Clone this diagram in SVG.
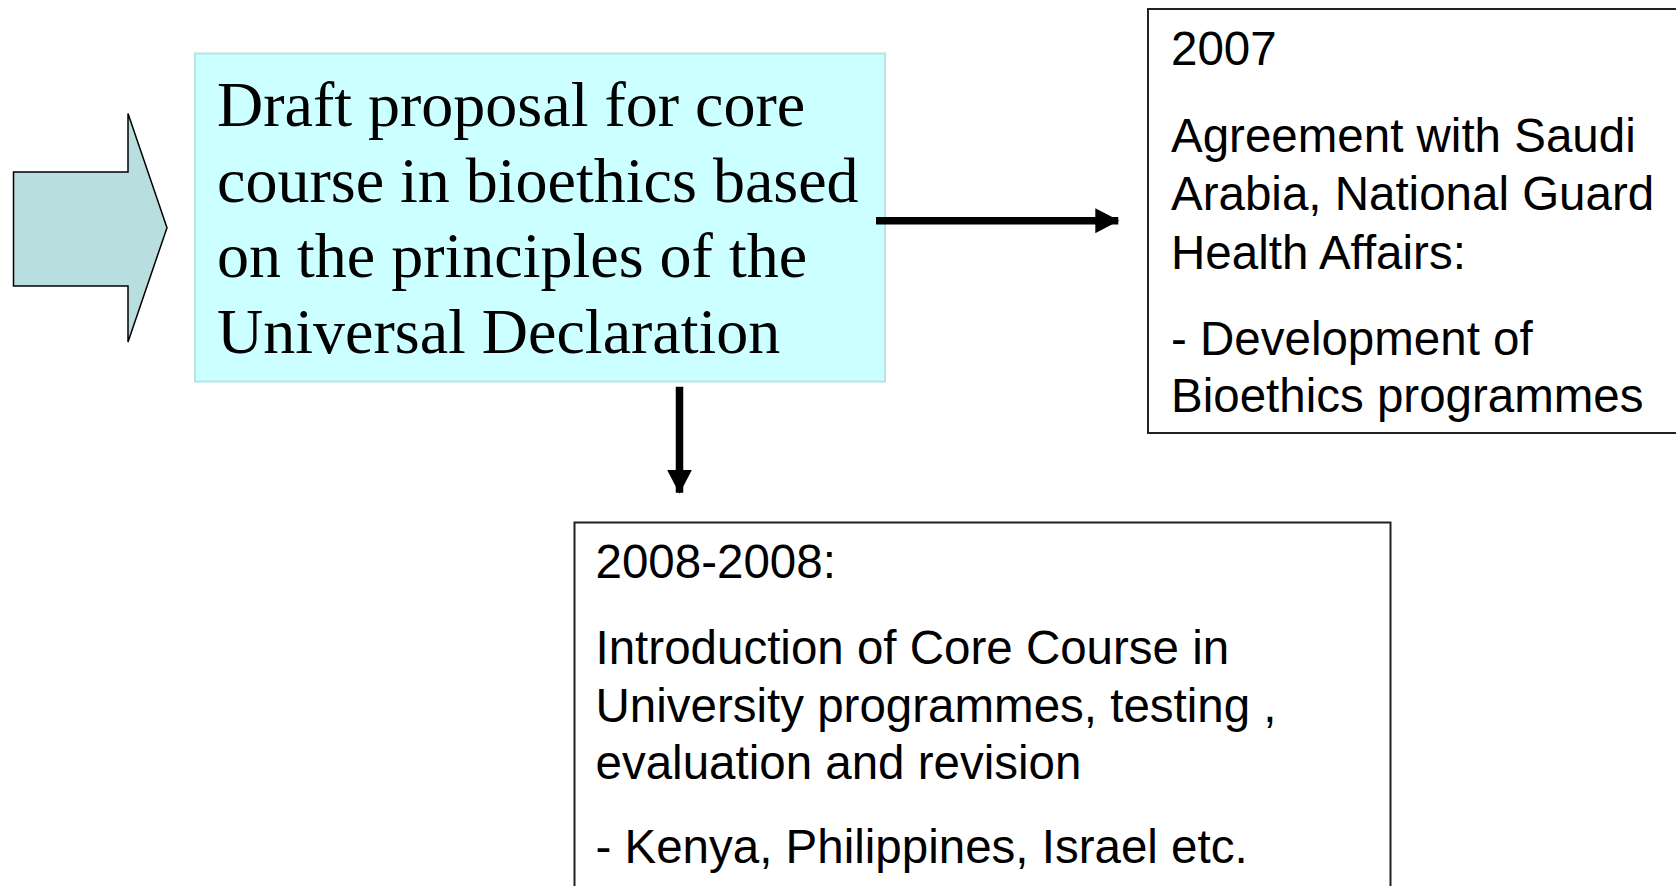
<svg xmlns="http://www.w3.org/2000/svg" width="1676" height="886" viewBox="0 0 1676 886">
<defs>
<style>
.serif{font-family:"Liberation Serif","Times New Roman",serif;font-size:64px;fill:#000}
.sans{font-family:"Liberation Sans",Arial,sans-serif;font-size:47.5px;fill:#000}
.box{fill:#fff;stroke:#222;stroke-width:2}
.conn{stroke:#000;stroke-width:7.5;fill:none}
</style>
<marker id="ah" markerWidth="24" markerHeight="25" viewBox="0 0 24 25" refX="23" refY="12.5" orient="auto" markerUnits="userSpaceOnUse">
<path d="M0,0 L24,12.5 L0,25 Z" fill="#000"/>
</marker>
</defs>
<rect width="1676" height="886" fill="#fff"/>
<g id="left-arrow">
<path d="M13.5,172 L128,172 L128,113.5 L167,227.7 L128,342 L128,286 L13.5,286 Z" fill="#b9dee0" stroke="#000" stroke-width="1.5"/>
</g>
<g id="draft-proposal">
<rect x="195" y="53.5" width="690" height="328" fill="#ccffff" stroke="#b8e4e4" stroke-width="2"/>
<text class="serif" x="217" y="126">Draft proposal for core</text>
<text class="serif" x="217" y="201.7">course in bioethics based</text>
<text class="serif" x="217" y="277.3">on the principles of the</text>
<text class="serif" x="217" y="353.3">Universal Declaration</text>
</g>
<g id="box-2007">
<rect class="box" x="1148" y="9" width="540" height="424"/>
<text class="sans" x="1171" y="65">2007</text>
<text class="sans" x="1171" y="151.7">Agreement with Saudi</text>
<text class="sans" x="1171" y="210">Arabia, National Guard</text>
<text class="sans" x="1171" y="269.3">Health Affairs:</text>
<text class="sans" x="1171" y="355">- Development of</text>
<text class="sans" x="1171" y="411.7">Bioethics programmes</text>
</g>
<g id="box-2008">
<rect class="box" x="574.5" y="522.5" width="816" height="400"/>
<text class="sans" x="595.5" y="578.3">2008-2008:</text>
<text class="sans" x="595.5" y="664">Introduction of Core Course in</text>
<text class="sans" x="595.5" y="721.7">University programmes, testing ,</text>
<text class="sans" x="595.5" y="779.3">evaluation and revision</text>
<text class="sans" x="595.5" y="863.3">- Kenya, Philippines, Israel etc.</text>
</g>
<g id="connectors">
<line class="conn" x1="876" y1="220.7" x2="1118.3" y2="220.7" marker-end="url(#ah)"/>
<line class="conn" x1="679.5" y1="386.7" x2="679.5" y2="492.7" marker-end="url(#ah)"/>
</g>
</svg>
